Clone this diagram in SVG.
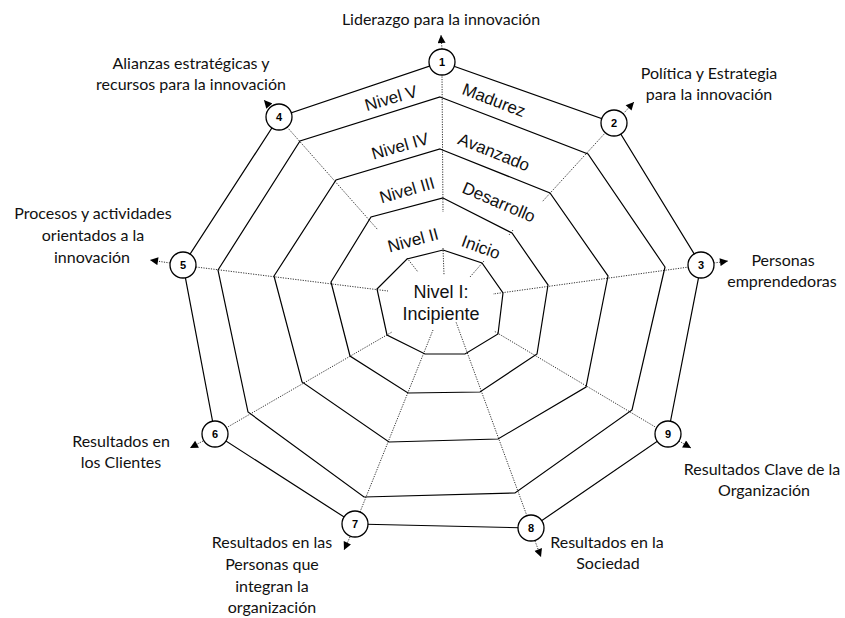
<svg xmlns="http://www.w3.org/2000/svg" width="845" height="618" viewBox="0 0 845 618">
<style>
.ring{fill:none;stroke:#000;stroke-width:1.2;stroke-linejoin:miter}
.axis{fill:none;stroke:#333;stroke-width:1;stroke-dasharray:1.2 1.3}
.arr{fill:none;stroke:#333;stroke-width:1;stroke-dasharray:1.2 1.3;marker-end:url(#ah)}
.node circle{fill:#fff;stroke:#000;stroke-width:1.3}
.num{font-family:"Liberation Sans",Arial,sans-serif;font-weight:bold;font-size:11px;text-anchor:middle}
.lbl{font-family:Lato,"Open Sans",sans-serif;font-size:16px;text-anchor:middle;fill:#111}
.lvl{font-family:"Liberation Sans",Arial,sans-serif;font-size:17px;text-anchor:middle;fill:#111}
</style>
<defs>
<marker id="ah" viewBox="0 0 10 10" refX="10" refY="5" markerWidth="10" markerHeight="8" markerUnits="userSpaceOnUse" orient="auto">
<path d="M0,0 L10,5 L0,10 Z" fill="#000"/>
</marker>
</defs>
<rect width="845" height="618" fill="#fff"/>
<g id="connectors">
<path class="axis" d="M442,74 L443,212 M443,248 L444,275"/>
<path class="axis" d="M606,132 L542,202 M513,230 L509,235 M484,261 L470,277"/>
<path class="axis" d="M689,267 L493,294"/>
<path class="axis" d="M657,428 L494,331"/>
<path class="axis" d="M527,516 L456,322"/>
<path class="axis" d="M360,512 L433,330"/>
<path class="axis" d="M226,428 L392,332"/>
<path class="axis" d="M196,267 L388,291"/>
<path class="axis" d="M287,127 L378,230 M407,258 L418,272"/>
<path class="arr" d="M442,49 L441,35"/>
<path class="arr" d="M623,114 L634,102"/>
<path class="arr" d="M714,263 L728,261"/>
<path class="arr" d="M679,441 L691,448"/>
<path class="arr" d="M535,541 L541,557"/>
<path class="arr" d="M350,537 L344,550"/>
<path class="arr" d="M203,441 L190,448"/>
<path class="arr" d="M170,263 L150,260"/>
<path class="arr" d="M271,108 L264,100"/>
<polygon class="ring" points="442,62 614,123 701,265 668,434 531,528 355,524 215,434 183,265 279,117"/>
<polygon class="ring" points="440,97 588,154 665,267 632,410 515,493 364,497 248,412 218,270 300,141"/>
<polygon class="ring" points="440,149 550,193 608,276 586,387 498,439 389,442 302,382 274,276 336,180"/>
<polygon class="ring" points="443,198 512,233 548,285 537,354 480,392 408,393 350,356 331,282 371,217"/>
<polygon class="ring" points="443,250 482,263 503,293 498,334 465,354 425,354 387,335 377,289 407,259"/>
</g>
<g id="levels">
<text class="lvl" x="391" y="98" dy="0.35em" transform="rotate(-16 391 98)">Nivel V</text>
<text class="lvl" x="494" y="100" dy="0.35em" transform="rotate(21 494 100)">Madurez</text>
<text class="lvl" x="400" y="146" dy="0.35em" transform="rotate(-16 400 146)">Nivel IV</text>
<text class="lvl" x="494" y="152" dy="0.35em" transform="rotate(22 494 152)">Avanzado</text>
<text class="lvl" x="407" y="190" dy="0.35em" transform="rotate(-16 407 190)">Nivel III</text>
<text class="lvl" x="499" y="202" dy="0.35em" transform="rotate(23 499 202)">Desarrollo</text>
<text class="lvl" x="413" y="240" dy="0.35em" transform="rotate(-15 413 240)">Nivel II</text>
<text class="lvl" x="481" y="247" dy="0.35em" transform="rotate(20 481 247)">Inicio</text>
<text class="lvl" x="441" y="292" dy="0.35em" style="font-size:18px">Nivel I:</text>
<text class="lvl" x="441" y="314" dy="0.35em" style="font-size:18px">Incipiente</text>
</g>
<g id="n1" class="node"><circle cx="442" cy="62" r="13"/><text class="num" x="442" y="66">1</text>
<text class="lbl" x="441" y="25">Liderazgo para la innovación</text></g>
<g id="n2" class="node"><circle cx="614" cy="123" r="13"/><text class="num" x="614" y="127">2</text>
<text class="lbl" x="709" y="79">Política y Estrategia</text><text class="lbl" x="709" y="100">para la innovación</text></g>
<g id="n3" class="node"><circle cx="701" cy="265" r="13"/><text class="num" x="701" y="269">3</text>
<text class="lbl" x="783" y="266">Personas</text><text class="lbl" x="782" y="287">emprendedoras</text></g>
<g id="n9" class="node"><circle cx="668" cy="434" r="13"/><text class="num" x="668" y="438">9</text>
<text class="lbl" x="762" y="475">Resultados Clave de la</text><text class="lbl" x="764" y="496">Organización</text></g>
<g id="n8" class="node"><circle cx="531" cy="528" r="13"/><text class="num" x="531" y="532">8</text>
<text class="lbl" x="607" y="548">Resultados en la</text><text class="lbl" x="608" y="569">Sociedad</text></g>
<g id="n7" class="node"><circle cx="355" cy="524" r="13"/><text class="num" x="355" y="528">7</text>
<text class="lbl" x="272" y="548">Resultados en las</text><text class="lbl" x="272" y="570">Personas que</text><text class="lbl" x="272" y="592">integran la</text><text class="lbl" x="272" y="613">organización</text></g>
<g id="n6" class="node"><circle cx="215" cy="434" r="13"/><text class="num" x="215" y="438">6</text>
<text class="lbl" x="121" y="447">Resultados en</text><text class="lbl" x="121" y="468">los Clientes</text></g>
<g id="n5" class="node"><circle cx="183" cy="265" r="13"/><text class="num" x="183" y="269">5</text>
<text class="lbl" x="93" y="219">Procesos y actividades</text><text class="lbl" x="93" y="241">orientados a la</text><text class="lbl" x="92" y="263">innovación</text></g>
<g id="n4" class="node"><circle cx="279" cy="117" r="13"/><text class="num" x="279" y="121">4</text>
<text class="lbl" x="191" y="69">Alianzas estratégicas y</text><text class="lbl" x="191" y="90">recursos para la innovación</text></g>
</svg>
